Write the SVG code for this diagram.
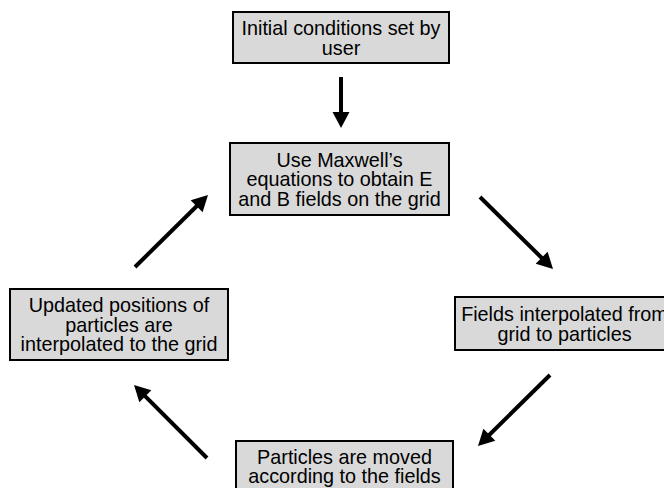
<svg xmlns="http://www.w3.org/2000/svg" width="664" height="488" viewBox="0 0 664 488">
<style>
.box{fill:#d9d9d9;stroke:#000;stroke-width:2}
.t{font-family:"Liberation Sans",Arial,Helvetica,sans-serif;font-size:19.8px;fill:#000;text-anchor:middle}
.c{stroke:#000;stroke-width:4;fill:none;marker-end:url(#ah)}
</style>
<defs>
<marker id="ah" markerUnits="userSpaceOnUse" markerWidth="17" markerHeight="18" refX="6" refY="8.5" orient="auto" overflow="visible">
<path d="M0,0 L16,8.5 L0,17 z" fill="#000"/>
</marker>
</defs>
<rect width="664" height="488" fill="#fff"/>
<g id="n1">
<rect class="box" x="233" y="12" width="216" height="51"/>
<text class="t" x="341" y="35">Initial conditions set by</text>
<text class="t" x="341" y="54.5">user</text>
</g>
<g id="n2">
<rect class="box" x="230" y="143" width="219" height="72"/>
<text class="t" x="339.5" y="166.5">Use Maxwell’s</text>
<text class="t" x="339.5" y="186">equations to obtain E</text>
<text class="t" x="339.5" y="205.5">and B fields on the grid</text>
</g>
<g id="n3">
<rect class="box" x="455" y="297" width="219" height="53"/>
<text class="t" x="564.5" y="321">Fields interpolated from</text>
<text class="t" x="564.5" y="340.5">grid to particles</text>
</g>
<g id="n4">
<rect class="box" x="236" y="441" width="217" height="52"/>
<text class="t" x="344.5" y="463.5">Particles are moved</text>
<text class="t" x="344.5" y="483">according to the fields</text>
</g>
<g id="n5">
<rect class="box" x="10" y="289" width="218" height="71"/>
<text class="t" x="119" y="312">Updated positions of</text>
<text class="t" x="119" y="331.5">particles are</text>
<text class="t" x="119" y="351">interpolated to the grid</text>
</g>
<g id="connectors">
<line class="c" x1="341" y1="77" x2="341" y2="118"/>
<line class="c" x1="135" y1="267" x2="200.9" y2="202"/>
<line class="c" x1="480" y1="197" x2="545.9" y2="262"/>
<line class="c" x1="550" y1="375" x2="485.1" y2="439"/>
<line class="c" x1="207" y1="458" x2="141.1" y2="392.1"/>
</g>
</svg>
